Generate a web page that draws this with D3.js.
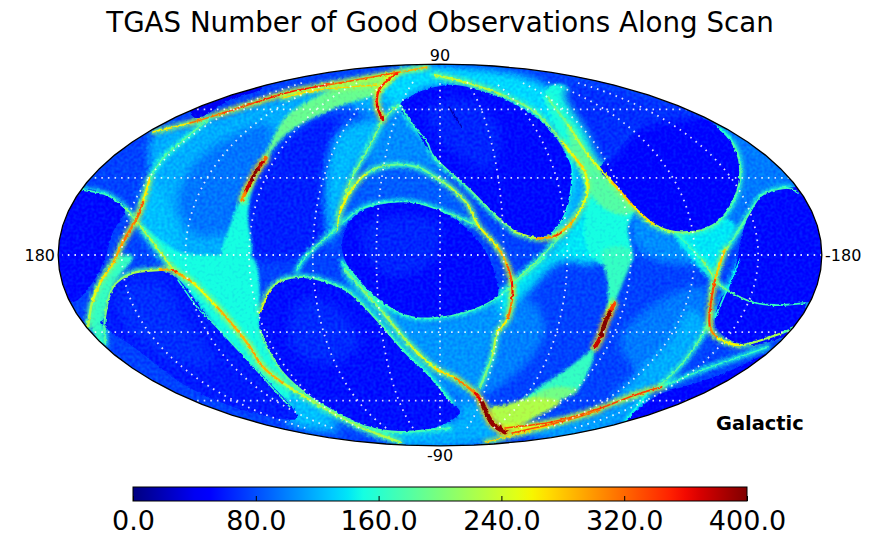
<!DOCTYPE html>
<html><head><meta charset="utf-8">
<script src="https://cdnjs.cloudflare.com/ajax/libs/d3/7.8.5/d3.min.js"></script>
<style>html,body{margin:0;padding:0;background:#fff}svg{display:block}text{font-family:"DejaVu Sans",sans-serif;fill:#000}</style>
</head><body><svg id="c" width="872" height="545"></svg>
<script>
// ---- values: [map column, map row] and counts (0-400) ----
const titleText = "TGAS Number of Good Observations Along Scan";
const cornerLabel = "Galactic";
const latTicks = [-60,-30,0,30,60];
const lonTicks = [-150,-120,-90,-60,-30,0,30,60,90,120,150];
const barTicks = [0,80,160,240,320,400];
const jetRed = [[0,0],[.35,0],[.66,1],[.89,1],[1,.5]];
const jetGreen = [[0,0],[.125,0],[.375,1],[.64,1],[.91,0],[1,0]];
const jetBlue = [[0,.5],[.11,1],[.34,1],[.65,0],[1,0]];
const baseCount = 76;

const glowTop = [[400,68],[440,66],[545,85],[570,125],[548,128],[528,112],[502,98],[478,90],[455,85],[435,87],[417,93],[400,105],[385,95]];
const glowUpperLeft = [[150,178],[153,135],[193,125],[287,95],[385,80],[400,100],[375,115],[340,105],[285,135],[262,165],[245,190],[230,225],[223,255],[165,255],[160,210]];
const glowUpperInner = [[190,170],[225,140],[270,125],[262,165],[245,190],[228,230],[195,235],[178,205]];
const wedgeUpper = [[395,74],[345,85],[290,113],[272,140],[262,165],[285,135],[335,108],[385,90]];
const wedgeUpperLow = [[262,165],[245,190],[230,225],[222,258],[250,258],[248,215],[252,190]];
const hubLeft = [[137,222],[172,268],[190,293],[237,350],[262,380],[290,400],[283,373],[267,347],[260,330],[260,313],[253,258],[222,255],[180,252]];
const bandBottom = [[283,373],[310,397],[337,413],[367,427],[400,432],[450,428],[470,442],[400,442],[340,420],[290,402]];
const stripLeft = [[120,255],[133,257],[113,285],[103,320],[103,345],[90,327],[92,303],[100,283]];
const triangleLeft = [[150,178],[138,222],[172,268],[180,252],[170,210]];
const sideUpper = [[383,120],[350,182],[337,225],[330,245],[325,180],[340,130]];
const sideMiddle = [[400,105],[435,158],[447,175],[417,165],[390,165],[367,173],[383,120]];
const crescent = [[343,222],[363,208],[390,202],[417,203],[450,216],[475,225],[468,205],[450,187],[435,177],[417,167],[390,165],[367,173],[350,192],[340,212]];
const bandRight = [[545,90],[565,85],[590,125],[612,160],[620,182],[635,208],[628,228],[632,262],[597,262],[585,240],[587,195],[585,172],[562,142]];
const bandRightInner = [[568,128],[590,155],[612,182],[635,208],[625,215],[600,205],[580,172]];
const bandRightEdge = [[565,150],[587,170],[587,195],[575,218],[552,237],[563,218],[572,195]];
const bandRightFoot = [[635,208],[675,232],[702,262],[650,258],[632,240]];
const rightHubCell = [[675,232],[702,230],[722,218],[735,225],[725,250],[715,280]];
const hubMiddle = [[497,298],[512,283],[545,257],[568,228],[575,218],[587,195],[597,262],[560,262],[530,290],[512,310],[507,320]];
const wedgeLower = [[603,250],[632,250],[622,285],[610,312],[602,330],[595,350],[592,363],[578,390],[568,397],[528,413],[508,423],[495,415],[512,407],[535,390],[568,368],[582,357],[595,345],[606,312],[608,285]];
const wedgeLowerBright = [[508,423],[528,413],[568,397],[578,390],[550,388],[512,407],[490,415]];
const wedgeBottomHot = [[490,408],[505,428],[540,415],[560,402],[530,398],[505,405]];
const lowerMiddle = [[345,268],[370,293],[397,312],[435,320],[478,308],[497,300],[505,320],[490,350],[478,395],[452,395],[427,373],[403,350],[377,320],[350,293]];
const lowerMiddleFan = [[497,333],[530,300],[545,330],[520,370],[480,395]];
const bottomCentre = [[452,403],[482,403],[505,432],[470,445],[400,445],[442,425],[460,412]];
const lowerRightGlow = [[708,323],[685,360],[658,387],[610,403],[640,370],[670,340],[690,310]];
const lowerRightWash = [[620,340],[680,290],[708,290],[695,335],[650,378]];
const lowerRightFan = [[520,430],[600,410],[650,392],[625,422],[560,440]];
const rightOfHole = [[740,165],[737,192],[722,218],[730,250],[745,215],[760,195],[800,190],[770,150],[730,130]];
const bottomLeftPatch = [[297,400],[340,430],[300,428],[285,418]];
const dimUpperLeft = [[267,152],[283,138],[333,118],[363,172],[340,212],[333,232],[310,255],[250,255],[252,195]];
const holeFade = [[565,90],[650,100],[702,116],[640,130],[606,165],[585,130]];
const holeWashLowerLeft = [[120,290],[160,282],[185,320],[215,365],[170,360],[125,325]];
const holeWashLowerMid = [[300,300],[340,310],[360,345],[325,365],[290,345]];
const holeWashCentre = [[360,230],[400,215],[440,225],[430,265],[385,275]];
const holeWashTop = [[425,110],[470,100],[500,130],[490,170],[450,150]];

const holeTop = [[400,105],[417,93],[435,87],[455,85],[478,90],[502,98],[528,112],[548,128],[565,152],[572,168],[570,195],[563,218],[552,233],[535,237],[515,232],[495,215],[468,188],[435,158],[413,125]];
const holeCentre = [[348,224],[363,210],[390,203],[417,203],[450,216],[470,232],[485,250],[492,265],[497,282],[497,298],[478,308],[455,315],[435,318],[417,318],[397,312],[370,293],[350,270],[342,248]];
const holeLowerMid = [[260,313],[270,290],[283,280],[303,277],[327,282],[350,293],[377,320],[403,350],[427,373],[452,403],[460,412],[442,425],[400,432],[367,427],[337,413],[310,397],[283,373],[270,353],[260,330]];
const holeLowerLeft = [[103,320],[113,287],[133,273],[160,270],[177,278],[190,293],[210,320],[237,350],[267,380],[297,418],[250,412],[190,388],[135,348],[100,322]];
const holeLeft = [[83,190],[107,195],[125,208],[113,232],[105,258],[93,282],[73,302],[58,290],[50,250],[60,215]];
const holeUpperRight = [[600,170],[622,145],[652,117],[700,118],[718,127],[732,142],[740,165],[737,192],[722,218],[702,230],[675,232],[652,222],[632,205],[612,182]];
const holeRight = [[750,212],[762,195],[785,188],[805,190],[835,230],[835,280],[805,303],[775,305],[752,302],[730,292],[736,265],[742,235]];
const holeRightLow = [[727,292],[752,302],[775,305],[805,303],[795,330],[775,340],[750,345],[725,337],[715,322]];
const holeLowerRight = [[625,424],[657,396],[690,385],[725,373],[770,352],[790,345],[760,395],[700,420]];
const holeRim = [[195,118],[230,100],[262,88],[250,82],[190,98]];

const ridgeTopLong = [[153,132,230],[190,123,300],[223,113,330],[257,102,340],[290,92,365],[327,85,340],[367,78,310],[400,72,340],[427,67,240]];
const ridgeTopLow = [[283,98,270],[317,90,270],[377,85,280]];
const ridgeTopArc = [[397,73,350],[380,88,340],[377,105,360],[383,120,380]];
const ridgeUpperCurve = [[398,105,180],[383,120,220],[370,145,195],[350,182,205],[340,212,235],[337,230,250]];
const ridgeArcOuter = [[340,212,240],[350,192,280],[367,173,215],[390,165,190],[417,167,185],[435,177,200],[450,187,215],[468,205,250],[478,225,240],[498,248,280],[507,265,290],[512,283,370],[512,300,350],[507,320,280],[497,333,245],[492,357,210],[480,387,190]];
const ridgeArcInner = [[343,222,170],[363,208,170],[390,202,165],[417,203,165],[450,214,175],[475,225,200]];
const ridgeHoleTopOuter = [[435,75,230],[468,83,240],[502,95,215],[535,112,185],[562,142,215],[575,158,290],[585,172,250],[587,195,255],[575,218,250],[562,232,320],[552,237,350],[535,238,240],[515,232,215]];
const ridgeHoleTopLow = [[515,232,210],[495,215,190],[468,188,185],[435,158,175],[427,142,165],[413,125,170],[400,105,170]];
const ridgeHoleTopEdge = [[565,152,140],[572,168,150],[570,195,150],[563,218,160],[552,233,170]];
const ridgeDiagonalRight = [[548,98,170],[568,125,215],[588,155,245],[612,182,255],[635,208,300],[655,225,235],[675,232,215],[702,230,190],[722,218,175],[737,192,175],[740,165,185],[732,142,170],[718,127,150]];
const ridgeThinLeft = [[337,228,190],[307,255,170],[297,270,170]];
const ridgeThinMiddle = [[512,283,210],[538,260,190],[568,228,185]];
const ridgeThinRight = [[675,232,170],[702,260,170],[715,280,260]];
const ridgeRightMain = [[750,212,170],[728,247,190],[725,250,230],[715,280,330],[710,310,335],[710,327,340],[718,338,270],[742,345,250],[782,333,190],[800,325,170]];
const ridgeRightTop = [[750,212,170],[762,195,170],[785,188,170],[798,192,165]];
const ridgeRightLow = [[715,280,200],[727,290,190],[752,302,170],[775,305,165],[805,303,165]];
const ridgeRightStrip = [[740,260,140],[727,290,150],[715,317,160]];
const ridgeLeftHole = [[83,190,165],[107,195,165],[125,208,175],[137,222,220]];
const ridgeLeftMain = [[150,178,230],[143,202,300],[137,218,350],[123,242,280],[117,255,310],[113,263,280],[100,283,260],[92,303,240],[88,327,210]];
const ridgeLeftUp = [[150,178,180],[163,158,180],[193,132,185],[210,118,190]];
const ridgeLowerLeftArc = [[105,345,170],[105,317,190],[113,287,210],[133,273,210],[160,270,230],[173,270,350],[177,273,330],[193,283,250],[217,307,270],[237,330,310],[250,347,270],[263,367,320],[283,383,260],[310,400,215],[340,417,220],[367,430,210],[400,442,240]];
const ridgeLeftDiag = [[137,222,230],[155,245,220],[175,272,250]];
const ridgeLowerHole = [[178,280,160],[197,307,165],[223,333,165],[250,363,170],[290,407,170]];
const ridgeHoleMidLow = [[260,330,190],[267,347,190],[283,373,190],[310,397,185],[337,413,185],[367,427,180],[400,432,175],[450,428,170]];
const ridgeHoleMidTop = [[260,313,260],[270,290,230],[283,280,195],[303,277,185],[327,282,170],[350,293,175],[377,320,185],[403,350,170],[427,373,165],[452,403,165]];
const ridgeCentreLow = [[342,262,170],[350,270,165],[370,293,170],[397,312,170],[417,318,165],[435,318,170],[455,315,170],[478,308,170],[497,298,170],[508,288,170],[522,277,175],[545,257,175]];
const ridgeHotFoot = [[345,270,185],[360,287,200],[385,315,210],[410,345,230],[435,368,260],[455,378,280],[475,393,340],[482,403,385]];
const ridgeHotFootCore = [[482,403,395],[492,423,400],[505,432,385]];
const ridgeHotRight = [[614,304,280],[610,312,390],[605,323,400],[600,338,400],[595,347,350]];
const ridgeHotLeft = [[266,158,280],[263,162,360],[257,170,395],[250,183,400],[245,193,350],[242,200,260]];
const ridgeBottomA = [[505,428,340],[552,422,330],[595,410,330],[635,395,345],[662,387,330]];
const ridgeBottomB = [[512,433,340],[568,420,320],[600,410,320]];
const ridgeBottomC = [[485,442,270],[515,435,280],[558,423,270]];
const ridgeFanOut = [[662,387,170],[702,370,170],[768,347,165]];
const ridgeFanCross = [[625,422,150],[648,393,150]];
const ridgeRightLowerEdge = [[725,253,160],[712,283,190],[708,323,200],[685,360,175],[658,387,190]];
const ridgeSpecks = [[449,107,20],[455,117,15],[462,127,25]];

// ---- layout ----
const W=872,H=545,cx=440,cy=255,sphereScale=135;
const svg=d3.select("#c");
const channel=s=>d3.scaleLinear().domain(s.map(d=>d[0]*400)).range(s.map(d=>d[1]*255)).clamp(true);
const cr=channel(jetRed),cg=channel(jetGreen),cb=channel(jetBlue);
const color=v=>d3.rgb(cr(v),cg(v),cb(v)).formatHex();
const skyX=d3.scaleLinear().domain([58,822]).range([cx-382,cx+382]);
const skyY=d3.scaleLinear().domain([65,445]).range([cy-190,cy+190]);

function mollweideRaw(l,p){
  let t=p;
  if(Math.abs(Math.abs(p)-Math.PI/2)>1e-9) for(let i=0;i<30;i++){t-=(2*t+Math.sin(2*t)-Math.PI*Math.sin(p))/(2+2*Math.cos(2*t));}
  return [2*Math.SQRT2/Math.PI*l*Math.cos(t),Math.SQRT2*Math.sin(t)];
}
const projection=d3.geoProjection(mollweideRaw).scale(sphereScale).translate([cx,cy]).reflectX(true).precision(.3);
const geo=d3.geoPath(projection);

const defs=svg.append("defs");
defs.append("clipPath").attr("id","sky").append("path").attr("d",geo({type:"Sphere"}));
const mkBlur=(id,s)=>defs.append("filter").attr("id",id).attr("x","-5%").attr("y","-5%").attr("width","110%").attr("height","110%").attr("color-interpolation-filters","sRGB").append("feGaussianBlur").attr("stdDeviation",s);
mkBlur("soft",4);mkBlur("mid",1.6);mkBlur("halo",2);mkBlur("slight",.5);
const rough=defs.append("filter").attr("id","rough").attr("x","0").attr("y","0").attr("width",W).attr("height",H).attr("filterUnits","userSpaceOnUse").attr("color-interpolation-filters","sRGB");
rough.append("feTurbulence").attr("type","fractalNoise").attr("baseFrequency",.34).attr("numOctaves",1).attr("seed",4).attr("result","n");
rough.append("feDisplacementMap").attr("in","SourceGraphic").attr("in2","n").attr("scale",3.4).attr("xChannelSelector","R").attr("yChannelSelector","G").attr("result","d");
rough.append("feColorMatrix").attr("in","n").attr("type","matrix").attr("values","0 0 0 0 .5  1 0 0 0 0  0 0 0 0 .5  0 0 0 0 1").attr("result","g");
rough.append("feComposite").attr("in","d").attr("in2","g").attr("operator","arithmetic").attr("k1",0).attr("k2",1).attr("k3",.32).attr("k4",-.16);

const closed=d3.line().x(d=>skyX(d[0])).y(d=>skyY(d[1])).curve(d3.curveCatmullRomClosed.alpha(.5));

const map=svg.append("g").attr("clip-path","url(#sky)");
const inner=map.append("g").attr("filter","url(#rough)");
inner.append("path").attr("d",geo({type:"Sphere"})).attr("fill",color(baseCount)).attr("stroke",color(baseCount)).attr("stroke-width",6);

const drawShapes=(filter,list)=>inner.append("g").attr("filter",filter).selectAll("path").data(list).join("path").attr("d",d=>closed(d[0])).attr("fill",d=>color(d[1]));

drawShapes("url(#soft)",[[dimUpperLeft,62],[glowUpperLeft,118],[glowUpperInner,96],[glowTop,135],[rightOfHole,98],[lowerRightWash,98],[lowerRightGlow,118],[lowerRightFan,112],[lowerMiddle,108],[lowerMiddleFan,100],[hubMiddle,140],[sideUpper,122],[sideMiddle,105],[crescent,86],[bandBottom,130],[bottomCentre,118],[bottomLeftPatch,125],[triangleLeft,125],[bandRightFoot,105]]);
drawShapes("url(#mid)",[[hubLeft,150],[stripLeft,165],[wedgeUpper,190],[wedgeUpperLow,150],[bandRight,150],[rightHubCell,140],[bandRightEdge,118],[bandRightInner,180],[wedgeLower,165],[wedgeLowerBright,195],[wedgeBottomHot,225]]);

const ridges=[[ridgeTopLong,1.9],[ridgeTopLow,1.6],[ridgeUpperCurve,2],[ridgeArcInner,2],[ridgeHoleTopEdge,1.6],[ridgeHoleTopLow,2.2],[ridgeThinLeft,2],[ridgeThinMiddle,2],[ridgeThinRight,2],
 [ridgeRightStrip,2],[ridgeRightTop,2.2],[ridgeRightLow,2.2],[ridgeLeftHole,2.4],[ridgeLeftUp,2],[ridgeLowerHole,1.8],[ridgeHoleMidLow,2.4],[ridgeHoleMidTop,2.4],[ridgeCentreLow,2.2],[ridgeFanOut,1.8],[ridgeFanCross,1.8],[ridgeRightLowerEdge,2],
 [ridgeBottomC,1.6],[ridgeBottomB,1.8],[ridgeBottomA,2],[ridgeHoleTopOuter,2.8],[ridgeDiagonalRight,2.8],[ridgeArcOuter,2.6],[ridgeRightMain,2.8],[ridgeLeftDiag,2.4],[ridgeLeftMain,3],[ridgeLowerLeftArc,2.8],[ridgeTopArc,3],[ridgeHotFoot,3],[ridgeHotFootCore,6],[ridgeHotRight,5],[ridgeHotLeft,4.5],[ridgeSpecks,1.8]];
function drawRidge(layer,pts,w,value){
  const P=pts.map(p=>[skyX(p[0]),skyY(p[1]),p[2]]);
  for(let i=0;i<P.length-1;i++){
    const a=P[Math.max(i-1,0)],b=P[i],c=P[i+1],e=P[Math.min(i+2,P.length-1)];
    const path=d3.path();path.moveTo(b[0],b[1]);
    path.bezierCurveTo(b[0]+(c[0]-a[0])/6,b[1]+(c[1]-a[1])/6,c[0]-(e[0]-b[0])/6,c[1]-(e[1]-b[1])/6,c[0],c[1]);
    layer.append("path").attr("d",path.toString()).attr("stroke",color(value((b[2]+c[2])/2))).attr("stroke-width",w);
  }
}
// halo under the holes, so the glow falls only on the outer side of each edge
const haloLayer=inner.append("g").attr("fill","none").attr("stroke-linecap","round").attr("filter","url(#halo)");
ridges.forEach(([pts,w])=>{ if(pts!==ridgeSpecks) drawRidge(haloLayer,pts,w*.8+3.5,v=>v*.56+58); });

drawShapes("url(#slight)",[[holeTop,54],[holeCentre,54],[holeLowerMid,56],[holeLowerLeft,60],[holeLeft,54],[holeUpperRight,52],[holeRight,54],[holeRightLow,54],[holeLowerRight,52],[holeRim,40]]);
drawShapes("url(#soft)",[[holeFade,68],[holeWashLowerLeft,68],[holeWashLowerMid,66],[holeWashCentre,64],[holeWashTop,64]]);

const ridgeLayer=inner.append("g").attr("fill","none").attr("stroke-linecap","round");
ridges.forEach(([pts,w])=>drawRidge(ridgeLayer,pts,w*.8,v=>v));

// graticule
const gr=svg.append("g").attr("clip-path","url(#sky)").attr("fill","none").attr("stroke","#fff").attr("stroke-opacity",.85).attr("stroke-width",1.8).attr("stroke-dasharray","1.6 5").attr("stroke-linecap","butt");
latTicks.forEach(lat=>gr.append("path").attr("d",geo({type:"LineString",coordinates:d3.range(-179.99,180.01,2).map(l=>[l,lat])})));
lonTicks.forEach(lon=>gr.append("path").attr("d",geo({type:"LineString",coordinates:d3.range(-75,75.01,1.5).map(l=>[lon,l])})));

svg.append("path").attr("d",geo({type:"Sphere"})).attr("fill","none").attr("stroke","#000").attr("stroke-width",1.3);

// text
svg.append("text").attr("x",440).attr("y",32).attr("text-anchor","middle").attr("font-size",27.7).text(titleText);
const tick=(x,y,t,a)=>svg.append("text").attr("x",x).attr("y",y).attr("text-anchor",a).attr("font-size",16).text(t);
tick(440,61,"90","middle");tick(440,461,"-90","middle");tick(55,261,"180","end");tick(825,261,"-180","start");
svg.append("text").attr("x",716).attr("y",430).attr("font-size",19.4).attr("font-weight","bold").text(cornerLabel);

// colour bar
const barX=d3.scaleLinear().domain([0,400]).range([133,747]);
const grad=defs.append("linearGradient").attr("id","jet");
d3.range(0,401,10).forEach(v=>grad.append("stop").attr("offset",v/400).attr("stop-color",color(v)));
svg.append("rect").attr("x",133).attr("y",487).attr("width",614).attr("height",14).attr("fill","url(#jet)").attr("stroke","#000").attr("stroke-width",1);
const axis=d3.axisBottom(barX).tickValues(barTicks).tickFormat(d3.format(".1f")).tickSizeInner(-5).tickSizeOuter(0).tickPadding(10);
const ag=svg.append("g").attr("transform","translate(0,501)").call(axis);
ag.select(".domain").remove();
ag.selectAll("text").attr("font-size",27).style("font-family",'"DejaVu Sans"').attr("fill","#000");
ag.selectAll("line").attr("stroke","#000");
</script></body></html>
